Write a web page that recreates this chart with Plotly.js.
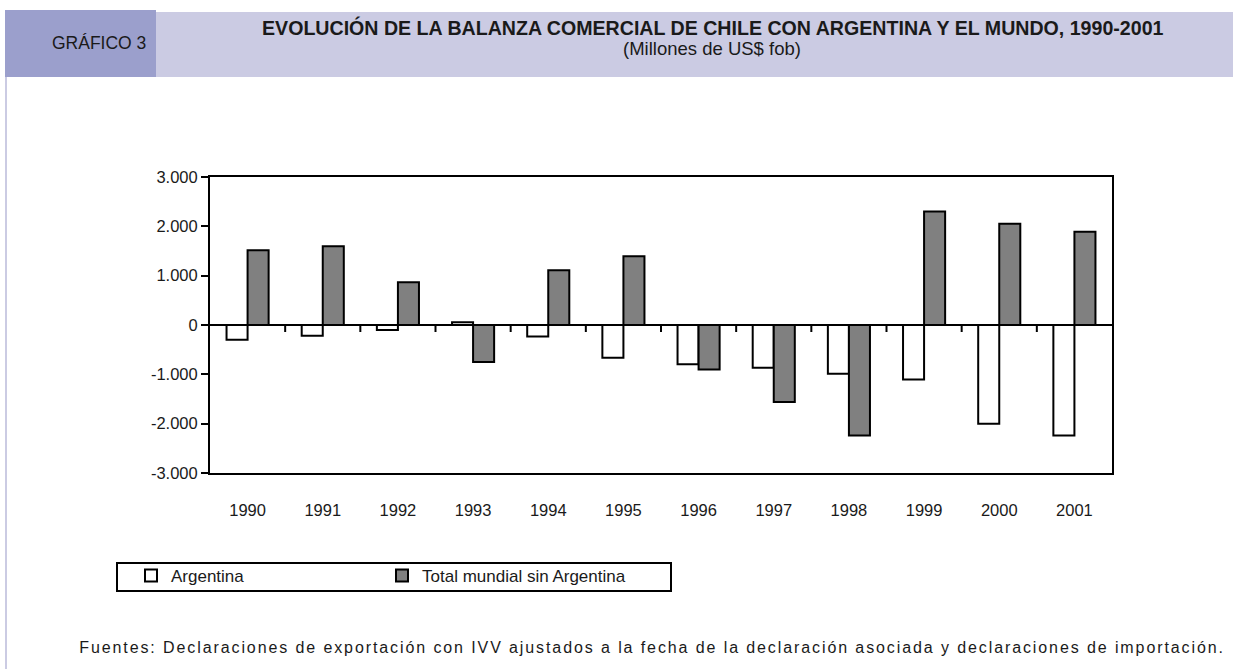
<!DOCTYPE html>
<html>
<head>
<meta charset="utf-8">
<script src="https://cdn.plot.ly/plotly-3.0.1.min.js"></script>
<style>
  html, body { margin: 0; padding: 0; background: #ffffff; }
  #chart { width: 1233px; height: 669px; }
  #chart svg text { font-stretch: condensed !important; }
</style>
</head>
<body>
<div id="chart"></div>
<script>
// ---- data ----
const years = ['1990','1991','1992','1993','1994','1995','1996','1997','1998','1999','2000','2001'];
const argentina = [-300, -220, -100, 55, -235, -665, -795, -865, -990, -1105, -2000, -2240];
const totalSinArgentina = [1515, 1595, 865, -750, 1110, 1395, -900, -1560, -2240, 2300, 2050, 1890];
const yTickVals = [3000, 2000, 1000, 0, -1000, -2000, -3000];
const yTickText = ['3.000', '2.000', '1.000', '0', '-1.000', '-2.000', '-3.000'];
const seriesNames = ['Argentina', 'Total mundial sin Argentina'];

const chartTitle = 'EVOLUCIÓN DE LA BALANZA COMERCIAL DE CHILE CON ARGENTINA Y EL MUNDO, 1990-2001';
const chartSubtitle = '(Millones de US$ fob)';
const chartLabel = 'GRÁFICO 3';
const sourceNote = 'Fuentes: Declaraciones de exportación con IVV ajustados a la fecha de la declaración asociada y declaraciones de importación.';

// ---- layout geometry ----
const W = 1233, H = 669;
const M = { l: 210, r: 121, t: 177, b: 196 };
const plotW = W - M.l - M.r, plotH = H - M.t - M.b;
const px = x => (x - M.l) / plotW;
const py = y => (H - M.b - y) / plotH;

const FONT = '"Liberation Sans Narrow", "Liberation Sans", Arial, sans-serif';

const traces = [
  {
    type: 'bar', name: seriesNames[0], x: years, y: argentina,
    marker: { color: '#ffffff', line: { color: '#000000', width: 2 } },
    hoverinfo: 'x+y'
  },
  {
    type: 'bar', name: seriesNames[1], x: years, y: totalSinArgentina,
    marker: { color: '#808080', line: { color: '#000000', width: 2 } },
    hoverinfo: 'x+y'
  }
];

// tick marks on the zero line between categories
const shapes = [];
years.forEach((yr, i) => {
  if (i < years.length - 1) {
    shapes.push({
      type: 'line', xref: 'x', yref: 'y', ysizemode: 'pixel', yanchor: 0,
      x0: i + 0.5, x1: i + 0.5, y0: 0, y1: -7,
      line: { color: '#000000', width: 2 }
    });
  }
});
// header boxes, left frame line, legend frame
shapes.push(
  { type: 'rect', xref: 'paper', yref: 'paper', layer: 'below',
    x0: px(156), x1: px(1233), y0: py(77), y1: py(12),
    fillcolor: '#cbcbe3', line: { width: 0 } },
  { type: 'rect', xref: 'paper', yref: 'paper', layer: 'below',
    x0: px(5), x1: px(7), y0: py(669), y1: py(33),
    fillcolor: '#cbcbe3', line: { width: 0 } },
  { type: 'rect', xref: 'paper', yref: 'paper', layer: 'below',
    x0: px(5), x1: px(156), y0: py(77), y1: py(10),
    fillcolor: '#9b9fcc', line: { width: 0 } },
  { type: 'rect', xref: 'paper', yref: 'paper', layer: 'below',
    x0: px(117), x1: px(671), y0: py(591), y1: py(563),
    fillcolor: 'rgba(0,0,0,0)', line: { color: '#000000', width: 2 } }
);

const annotations = [
  { xref: 'paper', yref: 'paper', x: px(99), y: py(43), xanchor: 'center', yanchor: 'middle',
    text: chartLabel, showarrow: false, font: { family: FONT, size: 17.5, color: '#1a1a1a' } },
  { xref: 'paper', yref: 'paper', x: px(713), y: py(27), xanchor: 'center', yanchor: 'middle',
    text: '<b>' + chartTitle + '</b>', showarrow: false, font: { family: FONT, size: 19.6, color: '#1a1a1a' } },
  { xref: 'paper', yref: 'paper', x: px(712), y: py(48), xanchor: 'center', yanchor: 'middle',
    text: chartSubtitle, showarrow: false, font: { family: FONT, size: 18.5, color: '#1a1a1a' } },
  { xref: 'paper', yref: 'paper', x: px(652), y: py(647), xanchor: 'center', yanchor: 'middle',
    text: sourceNote, showarrow: false, font: { family: FONT, size: 16, color: '#1a1a1a' } }
];

const layout = {
  width: W, height: H,
  margin: M,
  paper_bgcolor: '#ffffff', plot_bgcolor: '#ffffff',
  font: { family: FONT, size: 16, color: '#1a1a1a' },
  barmode: 'group', bargap: 0.44, bargroupgap: 0,
  showlegend: true,
  legend: {
    orientation: 'h', x: px(131), xanchor: 'left', y: py(558), yanchor: 'top',
    borderwidth: 0, bgcolor: 'rgba(0,0,0,0)',
    font: { family: FONT, size: 17, color: '#1a1a1a' },
    entrywidth: 206, entrywidthmode: 'pixels', traceorder: 'normal'
  },
  xaxis: {
    type: 'category', showgrid: false, zeroline: false,
    showline: true, linecolor: '#000000', linewidth: 2, mirror: true,
    ticks: '', ticklabelstandoff: 21,
    tickfont: { family: FONT, size: 16.5, color: '#1a1a1a' }
  },
  yaxis: {
    range: [-3000, 3000], tickvals: yTickVals, ticktext: yTickText,
    showgrid: false, zeroline: true, zerolinecolor: '#000000', zerolinewidth: 2,
    showline: true, linecolor: '#000000', linewidth: 2, mirror: true,
    ticks: 'outside', ticklen: 7, tickwidth: 2, tickcolor: '#000000',
    tickfont: { family: FONT, size: 16.5, color: '#1a1a1a' }
  },
  shapes: shapes,
  annotations: annotations
};

Plotly.newPlot('chart', traces, layout, { displayModeBar: false, staticPlot: true }).then(() => {
  document.querySelectorAll('.annotation-text').forEach(el => {
    if (el.textContent.indexOf('Fuentes') === 0) {
      el.style.letterSpacing = '1.9px';
    }
  });
});
</script>
</body>
</html>
